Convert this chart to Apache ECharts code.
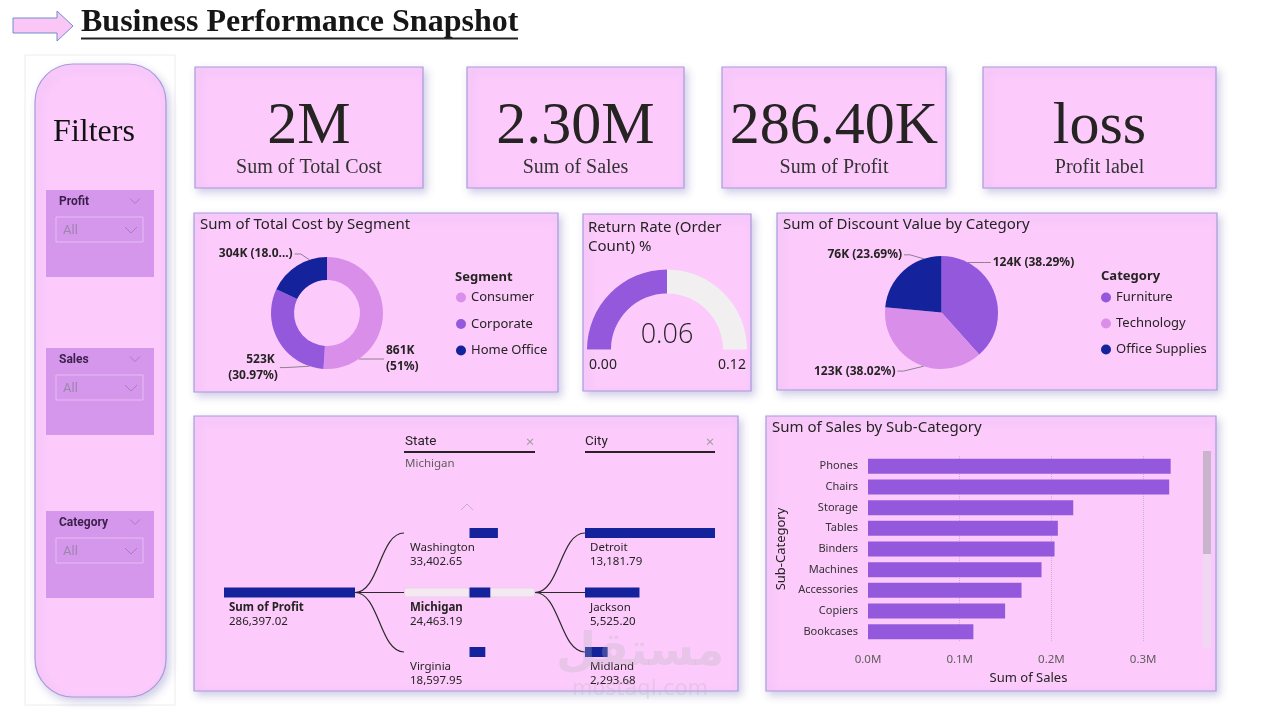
<!DOCTYPE html>
<html><head><meta charset="utf-8">
<script src="https://cdn.jsdelivr.net/npm/echarts@6.0.0/dist/echarts.min.js"></script>
<style>html,body{margin:0;padding:0;background:#fff;}#c{width:1280px;height:716px;}</style>
</head><body><div id="c"></div>
<script>
// ---------- DATA ----------
const pageTitle = 'Business Performance Snapshot';
const kpiValues = ['2M', '2.30M', '286.40K', 'loss'];
const kpiLabels = ['Sum of Total Cost', 'Sum of Sales', 'Sum of Profit', 'Profit label'];
const filterNames = ['Profit', 'Sales', 'Category'];
const filterValue = 'All';

const segments = ['Consumer', 'Corporate', 'Home Office'];
const segmentCost = [861000, 523000, 304000];
const segmentPct = [51, 30.97, 18.03];

const returnRate = 0.06;
const returnRateMin = 0;
const returnRateMax = 0.12;

const categories = ['Furniture', 'Technology', 'Office Supplies'];
const categoryDiscount = [124000, 123000, 76000];
const categoryPct = [38.29, 38.02, 23.69];

const subCategories = ['Phones', 'Chairs', 'Storage', 'Tables', 'Binders', 'Machines', 'Accessories', 'Copiers', 'Bookcases'];
const subCategorySales = [330000, 328400, 223800, 207000, 203400, 189200, 167400, 149500, 114900];
const salesAxisMax = 350000;
const salesAxisStep = 100000;

const rootLabel = 'Sum of Profit';
const rootValue = 286397.02;
const states = ['Washington', 'Michigan', 'Virginia'];
const stateProfit = [33402.65, 24463.19, 18597.95];
const selectedState = 'Michigan';
const stateScaleMax = 77000;
const cities = ['Detroit', 'Jackson', 'Midland'];
const cityProfit = [13181.79, 5525.20, 2293.68];

// ---------- STYLE ----------
const C = {
  card: '#FCCBFC', border: '#A79CDB', light: '#D98FEA', mid: '#9458DD', navy: '#14239C',
  text: '#252423', sub: '#605E5C', slicer: '#D597EB'
};
const SERIF = '"Liberation Serif", "Times New Roman", serif';
const SANS = '"Noto Sans", "Open Sans", sans-serif';
const TITLE = '"Noto Sans", "Open Sans", sans-serif';
const HEAD = 'Roboto, "Noto Sans", sans-serif';

function card(x, y, w, h, r) {
  return { type: 'rect', z: 0, shape: { x, y, width: w, height: h, r: r || 0 },
    style: { fill: C.card, stroke: C.border, lineWidth: 1.2, shadowBlur: 8, shadowOffsetX: 3, shadowOffsetY: 4, shadowColor: 'rgba(90,80,170,0.28)' } };
}
function txt(x, y, text, size, opts) {
  opts = opts || {};
  return { type: 'text', z: 50, style: {
    text, x, y, fontSize: size, fontFamily: opts.family || SANS, fontWeight: opts.weight || 'normal',
    fill: opts.color || C.text, align: opts.align || 'left', verticalAlign: opts.v || 'middle' } };
}
function line(x1, y1, x2, y2, color, w) {
  return { type: 'line', z: 50, shape: { x1, y1, x2, y2 }, style: { stroke: color, lineWidth: w || 1 } };
}
function chevron(cx, cy, s, color, up) {
  const d = up ? -1 : 1;
  return { type: 'polyline', z: 50, shape: { points: [[cx - s, cy - d * s / 2], [cx, cy + d * s / 2], [cx + s, cy - d * s / 2]] },
    style: { stroke: color, lineWidth: 1, fill: null } };
}

const G = [];
// title arrow + title
G.push({ type: 'polygon', z: 10, shape: { points: [[13, 18], [57, 18], [57, 11], [73, 26], [57, 41], [57, 33], [13, 33]] },
  style: { fill: '#FAC6F5', stroke: '#6F8ECB', lineWidth: 1 } });
G.push(txt(81, 23, pageTitle, 32, { family: SERIF, weight: 'bold', color: '#161616' }));
G.push(line(81, 38.5, 518, 38.5, '#222', 2));

// filters panel
G.push({ type: 'rect', z: 0, shape: { x: 25, y: 55, width: 150, height: 650 }, style: { fill: '#fff', stroke: '#ECECEC', lineWidth: 1 } });
G.push(card(35, 64, 131, 633, 38));
G.push(txt(94, 133, 'Filters', 32, { family: SERIF, align: 'center', color: '#111' }));
const slicerTops = [190, 348, 511];
filterNames.forEach((n, i) => {
  const y = slicerTops[i];
  G.push({ type: 'rect', z: 5, shape: { x: 46, y, width: 108, height: 87 }, style: { fill: C.slicer } });
  G.push(txt(59, y + 12, n, 12, { weight: 'bold', color: '#3B1F4A', family: HEAD }));
  G.push(chevron(135, y + 11, 5, '#A57DBA', false));
  G.push({ type: 'rect', z: 6, shape: { x: 56, y: y + 27, width: 87, height: 25 }, style: { fill: 'rgba(0,0,0,0)', stroke: '#E7BDF3', lineWidth: 1 } });
  G.push(txt(63, y + 41, filterValue, 13, { color: '#9C86AE', family: HEAD }));
  G.push(chevron(131, y + 40, 6, '#A57DBA', false));
});

// KPI cards
const kpiBoxes = [[195, 228], [467, 217], [722, 224], [983, 233]];
kpiBoxes.forEach((b, i) => {
  G.push(card(b[0], 67, b[1], 121));
  G.push(txt(b[0] + b[1] / 2, 127, kpiValues[i], 60, { family: SERIF, align: 'center', color: '#252423' }));
  G.push(txt(b[0] + b[1] / 2, 168, kpiLabels[i], 20, { family: SERIF, align: 'center', color: '#333' }));
});

// middle row cards
G.push(card(194, 213, 364, 179));
G.push(txt(200, 225, 'Sum of Total Cost by Segment', 15, { family: TITLE }));
G.push(txt(455, 277, 'Segment', 13, { weight: 'bold' }));
G.push(card(583, 214, 168, 177));
G.push(txt(588, 228, 'Return Rate (Order', 15, { family: TITLE }));
G.push(txt(588, 247, 'Count) %', 15, { family: TITLE }));
G.push(txt(603, 365, returnRateMin.toFixed(2), 14, { align: 'center' }));
G.push(txt(732, 365, returnRateMax.toFixed(2), 14, { align: 'center' }));
G.push(card(777, 213, 440, 177));
G.push(txt(783, 225, 'Sum of Discount Value by Category', 15, { family: TITLE }));
G.push(txt(1101, 276, 'Category', 13, { weight: 'bold' }));

// bottom cards
G.push(card(194, 416, 544, 275));
G.push(card(766, 416, 450, 275));
G.push(txt(772, 428, 'Sum of Sales by Sub-Category', 15, { family: TITLE }));
// scrollbar
G.push({ type: 'rect', z: 5, shape: { x: 1203, y: 451, width: 8, height: 197 }, style: { fill: 'rgba(235,220,238,0.7)' } });
G.push({ type: 'rect', z: 6, shape: { x: 1203, y: 451, width: 8, height: 103 }, style: { fill: '#C8B4CB' } });

// decomposition tree layout
const tree = { top: 503.25, rowH: 59.5, rootL: 224, rootW: 131, stateL: 404, stateW: 131, cityL: 585, cityW: 130, h: 178.5 };
const rowY = i => tree.top + tree.rowH * (i + 0.5);
G.push(txt(405, 442, 'State', 13.5, { family: HEAD }));
G.push(line(404, 452, 535, 452, C.text, 2));
G.push(txt(530, 443, '×', 15, { align: 'center', color: '#A0A0A0' }));
G.push(txt(405, 464, selectedState, 11.5, { color: C.sub }));
G.push(txt(585, 442, 'City', 13.5, { family: HEAD }));
G.push(line(585, 452, 715, 452, C.text, 2));
G.push(txt(710, 443, '×', 15, { align: 'center', color: '#A0A0A0' }));
G.push(chevron(467, 507, 6, '#BDB3C0', true));
function link(x1, y1, x2, y2) {
  const m = (x1 + x2) / 2;
  return { type: 'bezierCurve', z: 40, shape: { x1, y1, x2, y2, cpx1: m, cpy1: y1, cpx2: m, cpy2: y2 },
    style: { stroke: '#2B2A2A', lineWidth: 1.2, fill: null } };
}
const selIdx = states.indexOf(selectedState);
states.forEach((s, i) => G.push(link(tree.rootL + tree.rootW, rowY(1), tree.stateL, rowY(i))));
cities.forEach((c, i) => G.push(link(tree.stateL + tree.stateW, rowY(selIdx), tree.cityL, rowY(i))));

// watermark
G.push(txt(640, 653, 'مستقل', 46, { family: '"DejaVu Sans", sans-serif', weight: 'bold', align: 'center', color: 'rgba(180,180,180,0.28)' }));
G.push(txt(640, 690, 'mostaql.com', 21, { family: '"DejaVu Sans", sans-serif', align: 'center', color: 'rgba(180,180,180,0.28)' }));

// ---------- SERIES ----------
function pieLabel(pcts) {
  return { show: true, position: 'outside', fontSize: 12, fontWeight: 'bold', color: C.text, fontFamily: SANS, lineHeight: 16,
    formatter: p => Math.round(p.value / 1000) + 'K (' + pcts[p.dataIndex] + '%)' };
}
// label placement (text nudges) + leader line from the pie's rim to the label
function placeLabels(cx, cy, r, offsets) {
  return p => {
    const lr = p.labelRect, o = offsets[p.dataIndex] || [0, 0];
    const side = p.align === 'right' ? -1 : 1;
    const ax = (side < 0 ? lr.x + lr.width : lr.x) + o[0];
    const ay = lr.y + lr.height / 2 + o[1];
    const yy = Math.max(cy - r * 0.95, Math.min(cy + r * 0.95, ay));
    const xx = cx + side * Math.sqrt(r * r - (yy - cy) * (yy - cy));
    return { x: ax, y: ay, labelLinePoints: [[xx, yy], [ax - side * 8, ay], [ax - side * 2, ay]] };
  };
}
const pieLine = () => ({ show: true, length: 8, length2: 12, lineStyle: { color: '#8A828C', width: 1 } });
const fmt2 = v => v.toLocaleString('en-US', { minimumFractionDigits: 2, maximumFractionDigits: 2 });
const treeRich = {
  n: { fontSize: 11.5, color: C.text, fontFamily: SANS, lineHeight: 14 },
  b: { fontSize: 11.5, color: C.text, fontFamily: SANS, fontWeight: 'bold', lineHeight: 14 },
  v: { fontSize: 11.5, color: C.text, fontFamily: SANS, lineHeight: 14 }
};
function treeLabel(names, boldName, dx) {
  return { show: true, position: [dx, 13], rich: treeRich,
    formatter: p => '{' + (names[p.dataIndex] === boldName ? 'b' : 'n') + '|' + names[p.dataIndex] + '}\n{v|' + fmt2(p.value) + '}' };
}
const rows = ['0', '1', '2'];
const hiddenAxis = { show: false };
const legendText = { fontSize: 13, color: C.text, fontFamily: SANS };

const option = {
  animation: false,
  backgroundColor: '#ffffff',
  graphic: { elements: G },
  legend: [
    { data: segments, left: 456, top: 291, padding: 0, orient: 'vertical', icon: 'circle', itemWidth: 10, itemHeight: 10, itemGap: 13.5, selectedMode: false,
      textStyle: legendText },
    { data: categories, left: 1101, top: 291, padding: 0, orient: 'vertical', icon: 'circle', itemWidth: 10, itemHeight: 10, itemGap: 13, selectedMode: false,
      textStyle: legendText }
  ],
  grid: [
    { left: 868, top: 456, width: 321, height: 186 },
    { left: tree.rootL, top: tree.top, width: tree.rootW, height: tree.h },
    { left: tree.stateL, top: tree.top, width: tree.stateW, height: tree.h },
    { left: tree.cityL, top: tree.top, width: tree.cityW, height: tree.h }
  ],
  xAxis: [
    { gridIndex: 0, type: 'value', min: 0, max: salesAxisMax, interval: salesAxisStep,
      name: 'Sum of Sales', nameLocation: 'middle', nameGap: 30, nameTextStyle: { fontSize: 13, color: C.text, fontFamily: TITLE },
      axisLabel: { showMaxLabel: false, margin: 12, fontSize: 11.5, color: C.sub, fontFamily: SANS, formatter: v => (v / 1e6).toFixed(1) + 'M' },
      axisLine: { show: false }, axisTick: { show: false },
      splitLine: { show: true, showMinLine: false, showMaxLine: false, lineStyle: { type: 'dotted', color: '#C7B4CC' } } },
    { gridIndex: 1, type: 'value', min: 0, max: rootValue, ...hiddenAxis },
    { gridIndex: 2, type: 'value', min: -stateScaleMax, max: stateScaleMax, ...hiddenAxis },
    { gridIndex: 3, type: 'value', min: 0, max: cityProfit[0], ...hiddenAxis }
  ],
  yAxis: [
    { gridIndex: 0, type: 'category', data: subCategories, inverse: true,
      name: 'Sub-Category', nameLocation: 'middle', nameRotate: 90, nameGap: 80,
      nameTextStyle: { fontSize: 13, color: C.text, fontFamily: TITLE },
      axisLabel: { fontSize: 11, color: '#333', fontFamily: SANS, margin: 10 },
      axisLine: { show: false }, axisTick: { show: false } },
    { gridIndex: 1, type: 'category', data: rows, inverse: true, ...hiddenAxis },
    { gridIndex: 2, type: 'category', data: rows, inverse: true, ...hiddenAxis },
    { gridIndex: 3, type: 'category', data: rows, inverse: true, ...hiddenAxis }
  ],
  series: [
    { type: 'pie', name: 'segment', z: 4, center: [327, 313], radius: [33, 56], startAngle: 90, clockwise: true,
      label: pieLabel(segmentPct), labelLine: pieLine(),
      labelLayout: placeLabels(327, 313, 56, [[-22, 44], [23, 22], [17, -5]]),
      data: segments.map((s, i) => {
        const d = { name: s, value: segmentCost[i], itemStyle: { color: [C.light, C.mid, C.navy][i] } };
        d.label = (i === 2)
          ? { formatter: p => Math.round(p.value / 1000) + 'K (' + String(segmentPct[i]).slice(0, 4) + '...)' }
          : { width: 56, overflow: 'break' };
        return d;
      }) },
    { type: 'gauge', center: [667, 349.5], radius: 80, startAngle: 180, endAngle: 0, min: returnRateMin, max: returnRateMax,
      axisLine: { lineStyle: { width: 24, color: [[1, '#F1EFF0']] } },
      progress: { show: true, width: 24, itemStyle: { color: C.mid } },
      pointer: { show: false }, axisTick: { show: false }, splitLine: { show: false }, axisLabel: { show: false },
      anchor: { show: false }, title: { show: false },
      detail: { offsetCenter: [0, -14], fontSize: 27, fontFamily: '"Open Sans", sans-serif', fontWeight: 300, color: C.text, formatter: v => v.toFixed(2) },
      data: [{ value: returnRate }] },
    { type: 'pie', name: 'category', z: 4, center: [941.5, 312.5], radius: 56.5, startAngle: 90, clockwise: true,
      label: pieLabel(categoryPct), labelLine: pieLine(),
      labelLayout: placeLabels(941.5, 312.5, 56.5, [[-26, -27], [0, 1], [21, -10]]),
      data: categories.map((c, i) => ({ name: c, value: categoryDiscount[i], itemStyle: { color: [C.mid, C.light, C.navy][i] } })) },
    { type: 'bar', xAxisIndex: 0, yAxisIndex: 0, data: subCategorySales, barWidth: 15, itemStyle: { color: C.mid } },
    // decomposition tree
    { type: 'bar', xAxisIndex: 1, yAxisIndex: 1, barWidth: 10, data: ['-', rootValue, '-'], itemStyle: { color: C.navy },
      label: { show: true, position: [5, 13], rich: treeRich, formatter: p => '{b|' + rootLabel + '}\n{v|' + fmt2(p.value) + '}' } },
    { type: 'bar', xAxisIndex: 2, yAxisIndex: 2, barWidth: 10, barGap: '-100%', silent: true,
      data: states.map(s => s === selectedState ? stateScaleMax : '-'),
      itemStyle: { color: '#F6E8F3', borderColor: '#E3D3E3', borderWidth: 1 } },
    { type: 'bar', xAxisIndex: 2, yAxisIndex: 2, barWidth: 10, barGap: '-100%', silent: true,
      data: states.map(s => s === selectedState ? -stateScaleMax : '-'),
      itemStyle: { color: '#F6E8F3', borderColor: '#E3D3E3', borderWidth: 1 } },
    { type: 'bar', xAxisIndex: 2, yAxisIndex: 2, barWidth: 10, barGap: '-100%', data: stateProfit, itemStyle: { color: C.navy },
      label: treeLabel(states, selectedState, 6 - tree.stateW / 2) },
    { type: 'bar', xAxisIndex: 3, yAxisIndex: 3, barWidth: 10, data: cityProfit, itemStyle: { color: C.navy },
      label: treeLabel(cities, null, 5) }
  ]
};
const chart = echarts.init(document.getElementById('c'), null, { renderer: 'canvas' });
chart.setOption(option);
</script>
</body></html>
